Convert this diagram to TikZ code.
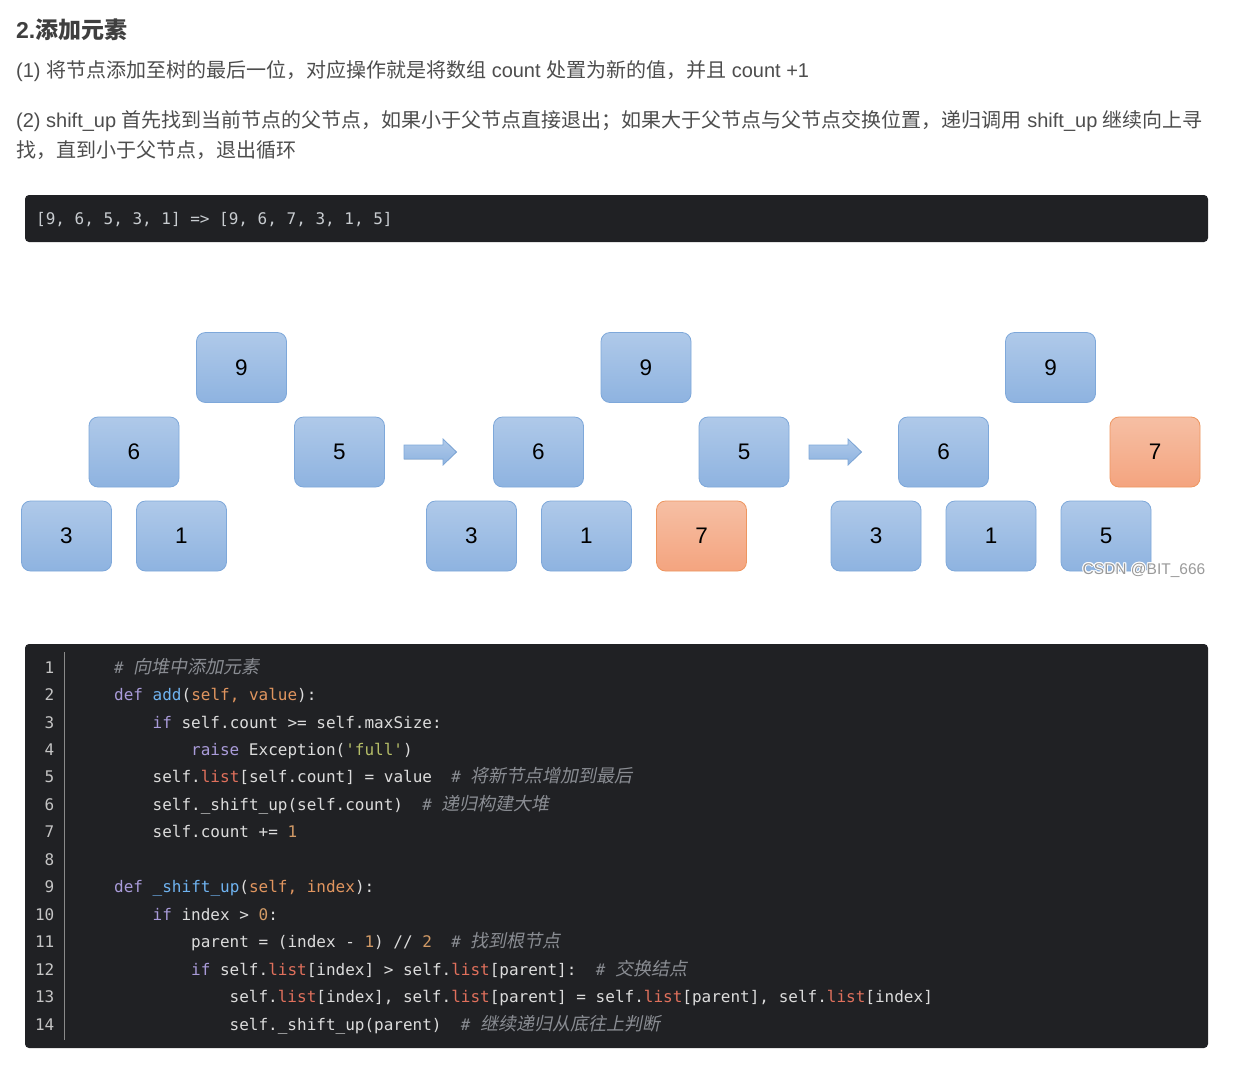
\documentclass[tikz,border=0pt]{standalone}
\usepackage{fontspec}
\setmainfont{Liberation Sans}
\setmonofont{DejaVu Sans Mono}
\newfontfamily\cjk{Noto Sans CJK SC}
\newfontfamily\cjkit[FakeSlant=0.2]{Noto Sans CJK SC}
\definecolor{bodytxt}{HTML}{4D4D4D}
\definecolor{titletxt}{HTML}{3F3F3F}
\definecolor{codebg}{HTML}{202124}
\definecolor{codetxt}{HTML}{DCDCDC}
\definecolor{striptxt}{HTML}{C8CCD0}
\definecolor{lnumtxt}{HTML}{C4C4C4}
\definecolor{sepline}{HTML}{8A8A8A}
\definecolor{kwcol}{HTML}{A99BD9}
\definecolor{fncol}{HTML}{6FB3F0}
\definecolor{pacol}{HTML}{E0955F}
\definecolor{licol}{HTML}{E0705C}
\definecolor{nmcol}{HTML}{D19A66}
\definecolor{stcol}{HTML}{B5BD68}
\definecolor{cmcol}{HTML}{8A8D93}
\definecolor{boxtop}{HTML}{AFC9E9}
\definecolor{boxbot}{HTML}{8EB3E0}
\definecolor{boxline}{HTML}{7EA8DA}
\definecolor{hottop}{HTML}{F6BFA4}
\definecolor{hotbot}{HTML}{F4A47F}
\definecolor{hotline}{HTML}{EE9660}
\definecolor{wmark}{HTML}{9A9A9A}
\newcommand{\ckw}[1]{\textcolor{kwcol}{#1}}
\newcommand{\cfn}[1]{\textcolor{fncol}{#1}}
\newcommand{\cpa}[1]{\textcolor{pacol}{#1}}
\newcommand{\cli}[1]{\textcolor{licol}{#1}}
\newcommand{\cnm}[1]{\textcolor{nmcol}{#1}}
\newcommand{\cst}[1]{\textcolor{stcol}{#1}}
\newcommand{\ccm}[1]{\textcolor{cmcol}{\itshape\#~{\cjkit\fontsize{18}{20}\selectfont #1}}}
\begin{document}
\begin{tikzpicture}[x=1pt,y=-1pt,
  bodyline/.style={anchor=base west, inner sep=0pt, text=bodytxt, font=\fontsize{20}{24}\selectfont},
  heapbox/.style={rectangle, rounded corners=9pt, minimum width=90pt, minimum height=70pt, inner sep=0pt,
    draw=boxline, line width=0.8pt, top color=boxtop, bottom color=boxbot, text=black, font=\fontsize{22.5}{26}\selectfont},
  hotbox/.style={heapbox, draw=hotline, top color=hottop, bottom color=hotbot},
  blockarrow/.style={draw=boxline, line width=0.8pt, top color=boxtop, bottom color=boxbot},
  codeline/.style={anchor=base west, inner sep=0pt, text=codetxt, font=\ttfamily\fontsize{16}{20}\selectfont},
  lnum/.style={anchor=base east, inner sep=0pt, text=lnumtxt, font=\ttfamily\fontsize{16}{20}\selectfont},
  wm/.style={inner sep=0pt, font=\fontsize{15.5}{18}\selectfont}
]
\useasboundingbox (0,0) rectangle (1235,1069);
\fill[white] (0,0) rectangle (1235,1069);

% heading and text
\node[bodyline, text=titletxt, font=\bfseries\fontsize{23}{27}\selectfont] (title) at (16,38.5) {2.{\cjk\bfseries 添加元素}};
\node[bodyline] (p1) at (16,77) {(1) {\cjk 将节点添加至树的最后一位，对应操作就是将数组} count {\cjk 处置为新的值，并且} count +1};
\node[bodyline] (p2) at (16,127) {(2) shift\_up {\cjk 首先找到当前节点的父节点，如果小于父节点直接退出；如果大于父节点与父节点交换位置，递归调用} shift\_up {\cjk 继续向上寻}};
\node[bodyline] (p3) at (16,157) {{\cjk 找，直到小于父节点，退出循环}};

% code strip
\fill[codebg, rounded corners=4pt] (25,195) rectangle (1208,242);
\node[codeline, text=striptxt] (strip) at (36,224) {[9, 6, 5, 3, 1] => [9, 6, 7, 3, 1, 5]};

% panel 1
\node[heapbox] (a9) at (241.5,367.5) {9};
\node[heapbox] (a6) at (134,452) {6};
\node[heapbox] (a5) at (339.5,452) {5};
\node[heapbox] (a3) at (66.5,536) {3};
\node[heapbox] (a1) at (181.5,536) {1};
% arrow 1
\filldraw[blockarrow] (404,445) -- (443,445) -- (443,439) -- (456.5,452) -- (443,465) -- (443,459) -- (404,459) -- cycle;
% panel 2
\node[heapbox] (b9) at (646,367.5) {9};
\node[heapbox] (b6) at (538.5,452) {6};
\node[heapbox] (b5) at (744,452) {5};
\node[heapbox] (b3) at (471.5,536) {3};
\node[heapbox] (b1) at (586.5,536) {1};
\node[hotbox] (b7) at (701.5,536) {7};
% arrow 2
\filldraw[blockarrow] (809,445) -- (848,445) -- (848,439) -- (861.5,452) -- (848,465) -- (848,459) -- (809,459) -- cycle;
% panel 3
\node[heapbox] (c9) at (1050.5,367.5) {9};
\node[heapbox] (c6) at (943.5,452) {6};
\node[hotbox] (c7) at (1155,452) {7};
\node[heapbox] (c3) at (876,536) {3};
\node[heapbox] (c1) at (991,536) {1};
\node[heapbox] (c5) at (1106,536) {5};

% watermark
\foreach \dx/\dy in {-1/0,1/0,0/-1,0/1,-0.8/-0.8,0.8/0.8,-0.8/0.8,0.8/-0.8}
  \node[wm, text=white] at (1144+\dx,570+\dy) {CSDN @BIT\_666};
\node[wm, text=wmark] (wmk) at (1144,570) {CSDN @BIT\_666};

% code block
\fill[codebg, rounded corners=4pt] (25,644) rectangle (1208,1048);
\coordinate (sepT) at (64.5,652);
\coordinate (sepB) at (64.5,1040);
\draw[sepline, line width=1pt] (sepT) -- (sepB);

\foreach \k/\y in {1/673,2/700.5,3/728,4/755.4,5/782.8,6/810.3,7/837.8,8/865.2,9/892.7,10/920.1,11/947.6,12/975,13/1002.5,14/1030}
  \node[lnum] (n\k) at (54.5,\y) {\k};

\node[codeline] (l1) at (114,673) {\ccm{向堆中添加元素}};
\node[codeline] (l2) at (114,700.5) {\ckw{def} \cfn{add}(\cpa{self, value}):};
\node[codeline] (l3) at (152.5,728) {\ckw{if} self.count >= self.maxSize:};
\node[codeline] (l4) at (191,755.4) {\ckw{raise} Exception(\cst{'full'})};
\node[codeline] (l5) at (152.5,782.8) {self.\cli{list}[self.count] = value~~\ccm{将新节点增加到最后}};
\node[codeline] (l6) at (152.5,810.3) {self.\_shift\_up(self.count)~~\ccm{递归构建大堆}};
\node[codeline] (l7) at (152.5,837.8) {self.count += \cnm{1}};
\node[codeline] (l9) at (114,892.7) {\ckw{def} \cfn{\_shift\_up}(\cpa{self, index}):};
\node[codeline] (l10) at (152.5,920.1) {\ckw{if} index > \cnm{0}:};
\node[codeline] (l11) at (191,947.6) {parent = (index - \cnm{1}) // \cnm{2}~~\ccm{找到根节点}};
\node[codeline] (l12) at (191,975) {\ckw{if} self.\cli{list}[index] > self.\cli{list}[parent]:~~\ccm{交换结点}};
\node[codeline] (l13) at (229.5,1002.5) {self.\cli{list}[index], self.\cli{list}[parent] = self.\cli{list}[parent], self.\cli{list}[index]};
\node[codeline] (l14) at (229.5,1030) {self.\_shift\_up(parent)~~\ccm{继续递归从底往上判断}};
\end{tikzpicture}
\end{document}
